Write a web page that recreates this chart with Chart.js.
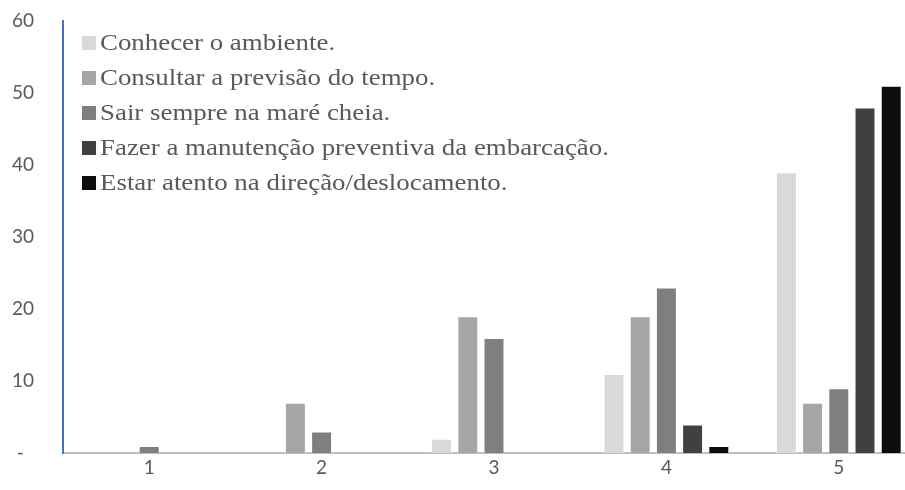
<!DOCTYPE html>
<html>
<head>
<meta charset="utf-8">
<script src="https://cdn.jsdelivr.net/npm/chart.js@4"></script>
<style>
  html, body { margin: 0; padding: 0; background: #fff; overflow: hidden; }
  #wrap { width: 925px; height: 490px; }
</style>
</head>
<body>
<div id="wrap"><canvas id="chart"></canvas></div>
<script>
const categories = ["1", "2", "3", "4", "5"];
const seriesNames = [
  "Conhecer o ambiente.",
  "Consultar a previsão do tempo.",
  "Sair sempre na maré cheia.",
  "Fazer a manutenção preventiva da embarcação.",
  "Estar atento na direção/deslocamento."
];
const conhecer = [0, 0, 2, 11, 39];
const consultar = [0, 7, 19, 19, 7];
const sair = [1, 3, 16, 23, 9];
const manutencao = [0, 0, 0, 4, 48];
const atento = [0, 0, 0, 1, 51];
const yTicks = [0, 10, 20, 30, 40, 50, 60];

const colors = ["#d9d9d9", "#a6a6a6", "#7f7f7f", "#404040", "#0d0d0d"];
const values = [conhecer, consultar, sair, manutencao, atento];

// legend drawn by hand: Excel-style stacked list in the top-left of the plot
const legendPlugin = {
  id: "excelLegend",
  afterDraw(chart) {
    const c = chart.ctx;
    const area = chart.chartArea;
    c.save();
    c.textBaseline = "middle";
    c.textAlign = "left";
    c.font = "24px 'Liberation Serif'";
    chart.data.datasets.forEach((ds, i) => {
      const y = 43 + i * 35;
      c.fillStyle = ds.backgroundColor;
      c.fillRect(area.left + 19, y - 7, 14, 14);
      c.save();
      c.translate(area.left + 37, y);
      c.scale(1.12, 1);
      c.fillStyle = "#595959";
      c.fillText(ds.label, 0, 1);
      c.restore();
    });
    c.restore();
  }
};

const ctx = document.getElementById("chart").getContext("2d");
const chart = new Chart(ctx, {
  type: "bar",
  data: {
    labels: categories,
    datasets: values.map((v, i) => ({
      label: seriesNames[i],
      data: v,
      backgroundColor: colors[i],
      borderColor: "rgba(255,255,255,0.6)",
      borderWidth: 1,
      categoryPercentage: 0.76,
      barPercentage: 0.8
    }))
  },
  options: {
    responsive: true,
    maintainAspectRatio: false,
    animation: false,
    layout: { padding: { top: 21, bottom: 8, left: 12, right: 0 } },
    plugins: {
      tooltip: { enabled: false },
      legend: { display: false }
    },
    scales: {
      x: {
        grid: { display: false, drawTicks: false },
        border: { color: "#bfbfbf", width: 2 },
        ticks: {
          color: "#595959",
          padding: 3,
          font: { family: "Lato", size: 19 }
        }
      },
      y: {
        min: 0,
        max: 60,
        afterBuildTicks: axis => { axis.ticks = yTicks.map(v => ({ value: v })); },
        grid: { display: false, drawTicks: false },
        border: { color: "#4472c4", width: 2 },
        afterFit: axis => { axis.width = 51; },
        ticks: {
          color: "#595959",
          padding: 0,
          crossAlign: "far",
          font: { family: "Lato", size: 19 },
          callback: v => v === 0 ? " -" : v
        }
      }
    }
  },
  plugins: [legendPlugin]
});
</script>
</body>
</html>
